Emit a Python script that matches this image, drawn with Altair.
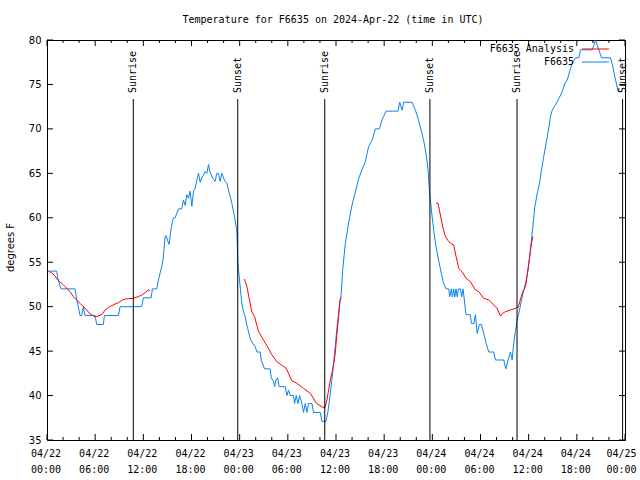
import altair as alt
import pandas as pd

# ---- data (hours since 2024-04-22 00:00 UTC, degrees F) ----
blue_hours = [0.17, 1.2, 1.4, 1.75, 3.49, 3.7, 3.9, 4.11, 4.32, 4.53, 4.74, 5.98, 6.19, 7.02, 7.15,
              8.9, 9.1, 11.8, 12.01, 12.97, 13.13, 13.67, 13.88, 14.09, 14.3, 14.5, 14.71, 14.84, 15.0,
              15.21, 15.42, 15.63, 15.75, 15.96, 16.38, 16.79, 17.0, 17.21, 17.41, 17.62, 17.83, 18.04,
              18.25, 18.45, 18.66, 18.87, 19.08, 19.28, 19.49, 19.7, 19.91, 20.12, 20.32, 20.53, 20.74,
              20.95, 21.15, 21.36, 21.57, 21.78, 21.99, 22.19, 22.4, 22.61, 22.82, 23.03, 23.23, 23.44,
              23.65, 23.78, 23.94, 24.1, 24.27, 24.48, 24.69, 24.9, 25.1, 25.31, 25.6, 25.94, 26.15,
              26.56, 26.68, 27.1, 27.8, 27.93, 28.22, 28.35, 28.51, 28.72, 28.93, 29.68, 29.88, 30.09,
              30.3, 30.71, 30.84, 31.05, 31.26, 31.46, 31.76, 31.96, 32.17, 32.38, 32.58, 33.0, 33.2,
              34.04, 34.25, 34.75, 35.0, 35.29, 35.58, 35.82, 36.12, 36.41, 36.66, 36.83, 37.16, 37.57,
              37.99, 38.4, 38.82, 39.24, 39.65, 40.06, 40.49, 40.9, 41.4, 41.73, 41.93, 42.23, 43.73,
              43.93, 44.23, 44.43, 45.47, 45.89, 46.22, 46.51, 46.92, 47.22, 47.47, 47.63, 47.88, 48.17,
              48.46, 48.79, 49.13, 49.41, 49.71, 50.04, 50.17, 50.37, 50.5, 50.65, 50.8, 50.95, 51.1,
              51.25, 51.5, 51.65, 51.83, 52.03, 52.2, 52.74, 52.87, 53.16, 53.37, 53.58, 53.87, 54.1,
              54.4, 54.7, 55.03, 55.65, 55.86, 56.9, 57.15, 57.44, 57.73, 57.94, 58.14, 58.35, 58.57,
              58.85, 59.19, 59.6, 59.93, 60.22, 60.52, 60.76, 61.06, 61.35, 61.6, 61.88, 62.18, 62.51,
              62.72, 62.93, 63.34, 63.76, 64.18, 64.5, 64.8, 65.09, 65.42, 65.84, 66.25, 66.46, 67.92,
              68.12, 68.33, 68.54, 68.74, 69.08, 70.2, 70.49, 70.82, 71.16, 71.45]
blue_temps = [54, 54, 53, 52, 52, 50.8, 50, 49, 49, 50, 49, 49, 48, 48, 49,
              49, 50, 50, 51, 51, 52, 52, 53, 53.8, 54.5, 55.6, 57.9, 58, 57.5,
              57, 58.6, 59.6, 60, 60, 61, 61, 62, 61.4, 62.6, 62.2, 63, 61.3,
              63, 63.3, 64.2, 65, 64, 64.5, 64.8, 65.2, 65, 66, 65.1, 64.7, 64.3,
              64.1, 65, 65, 64.1, 65, 64.5, 64.1, 63.9, 63.1, 62.4, 61.6, 60.7, 59.7,
              58.4, 54.9, 53.4, 51.9, 50.4, 49.4, 48.9, 47.9, 47.2, 46.4, 45.9, 45.5, 44.9,
              44.9, 44, 43, 43, 42, 41.6, 41, 41.7, 42, 41, 41, 40, 40.6,
              40, 40, 39.1, 40, 39.1, 40, 39.1, 38.1, 39.1, 38.1, 39.1, 39.1, 38.1,
              38.1, 37.1, 37.1, 38.2, 40.2, 42.5, 44.7, 47.6, 50, 51.5, 54.1, 57.1, 59.4,
              61.4, 62.9, 64.4, 65.4, 66.3, 68, 68.7, 70, 70, 71, 71.4, 72, 72,
              73, 72.1, 73, 73, 72.1, 71.2, 70.2, 68.7, 67.2, 65.4, 63.1, 60.9, 58.6,
              56.7, 55.2, 53.7, 52.6, 52, 52, 51.1, 52, 51.1, 52, 51.1, 52, 51.1,
              52, 52, 51.1, 52, 50.4, 49.1, 49.1, 48.1, 48.1, 49.1, 47, 48, 48,
              47, 45.9, 44.9, 44.9, 44, 44, 43, 44, 44.9, 44, 45.9, 47.2, 48.5,
              49.6, 51.1, 52.6, 54.1, 56.4, 59, 61.2, 62.7, 63.9, 65.4, 66.9, 68.4, 70.1,
              71.4, 72.1, 72.7, 73.4, 74.2, 75.1, 75.5, 76.4, 77.4, 78, 78, 78.9, 78.9,
              79.4, 80, 79.4, 78.9, 78, 78, 77, 75.5, 74.2, 74.2]

red1_hours = [0.17, 0.66, 1.0, 1.33, 1.62, 2.04, 2.45, 2.87, 3.28, 3.7, 4.11, 4.53, 4.95, 5.36,
              5.78, 6.19, 6.61, 6.9, 7.23, 7.65, 8.06, 8.48, 8.9, 9.4, 9.73, 10.76, 11.39, 11.8,
              12.22, 12.63, 12.84]
red1_temps = [54, 53.75, 53.45, 53.0, 52.8, 52.44, 52.06, 51.69, 51.13, 50.75, 50.38, 50.0, 49.63,
              49.18, 48.95, 48.88, 49.03, 49.18, 49.63, 49.93, 50.11, 50.3, 50.45, 50.75, 50.86,
              50.94, 51.13, 51.31, 51.58, 51.88, 51.8]
red2_hours = [24.6, 24.9, 25.19, 25.52, 25.85, 26.35, 26.97, 27.6, 28.0, 28.64, 29.8, 30.5, 31.1,
              31.96, 32.8, 33.6, 34.25, 34.6, 34.87, 35.29, 35.58, 35.91, 36.12, 36.33, 36.5, 36.66]
red2_temps = [53.1, 52.25, 50.9, 49.4, 48.9, 47.2, 46.25, 45.3, 44.6, 43.8, 43.06, 41.67, 41.4,
              40.8, 40.25, 39.1, 38.75, 38.6, 39.5, 41.75, 42.9, 44.75, 47.0, 48.9, 50.75, 51.05]
red3_hours = [48.46, 48.71, 49.0, 49.29, 49.63, 49.96, 50.25, 50.66, 50.96, 51.29, 51.71, 52.2,
              52.74, 53.37, 53.78, 54.4, 55.03, 55.65, 56.07, 56.48, 56.77, 57.1, 57.73, 58.35,
              58.69, 58.98, 59.26, 59.52, 59.69, 59.81, 60.1, 60.35, 60.52]
red3_temps = [61.63, 61.63, 60.31, 59.0, 57.88, 57.43, 57.13, 56.94, 55.63, 54.31, 53.94, 53.19,
              52.81, 51.87, 51.69, 50.94, 50.75, 50.19, 49.81, 48.95, 49.25, 49.44, 49.63, 49.81,
              49.93, 50.83, 51.69, 52.06, 52.62, 53.56, 55.44, 57.13, 57.88]

sun_hours = [10.75, 23.76, 34.6, 47.7, 58.55, 71.7]
sun_labels = ["Sunrise", "Sunset", "Sunrise", "Sunset", "Sunrise", "Sunset"]

x_tick_hours = list(range(0, 73, 6))
x_minor_hours = [h for h in range(0, 73, 2) if h % 6 != 0]
y_tick_values = list(range(35, 81, 5))

TITLE = "Temperature for F6635 on 2024-Apr-22 (time in UTC)"
BLUE = "#0b82f0"
RED = "#ff0000"
MONO = "DejaVu Sans Mono"
SANS = "DejaVu Sans"

W, H = 578, 400

# ---- frames ----
blue_df = pd.DataFrame({"h": blue_hours, "t": blue_temps})
red_df = pd.concat([
    pd.DataFrame({"h": red1_hours, "t": red1_temps, "seg": 1}),
    pd.DataFrame({"h": red2_hours, "t": red2_temps, "seg": 2}),
    pd.DataFrame({"h": red3_hours, "t": red3_temps, "seg": 3}),
])
sun_df = pd.DataFrame({"h": sun_hours, "label": sun_labels})
xmaj_df = pd.DataFrame({"h": x_tick_hours})
xmin_df = pd.DataFrame({"h": x_minor_hours})
ytick_df = pd.DataFrame({"t": y_tick_values})
one = pd.DataFrame({"a": [0]})

xs = alt.Scale(domain=[0, 72], nice=False, zero=False)
ys = alt.Scale(domain=[35, 80], nice=False, zero=False)

label_expr = ("['04/' + (22 + floor(datum.value / 24)), "
              "((datum.value % 24) < 10 ? '0' : '') + (datum.value % 24) + ':00']")

x_axis = alt.Axis(values=x_tick_hours, labelExpr=label_expr, ticks=False, domain=False,
                  grid=False, labelFont=MONO, labelFontSize=10, labelColor="black",
                  labelPadding=8, labelLineHeight=16, labelOverlap=False, labelFlush=False,
                  labelOffset=alt.condition("datum.value >= 72", alt.value(-4), alt.value(-1.5)),
                  title=None)
y_axis = alt.Axis(values=y_tick_values, ticks=False, domain=False, grid=False,
                  labelFont=SANS, labelFontSize=10, labelColor="black", labelPadding=6,
                  title="degrees F", titleFont=SANS, titleFontSize=10, titleFontWeight="normal",
                  titleColor="black", titleX=-37, titleY=207, titleAngle=270,
                  titleAlign="center", titleBaseline="middle")

blue = alt.Chart(blue_df).mark_line(color=BLUE, strokeWidth=1, clip=True).encode(
    x=alt.X("h:Q", scale=xs, axis=x_axis),
    y=alt.Y("t:Q", scale=ys, axis=y_axis),
)
red = alt.Chart(red_df).mark_line(color=RED, strokeWidth=1, clip=True).encode(
    x=alt.X("h:Q", scale=xs),
    y=alt.Y("t:Q", scale=ys),
    detail="seg:N",
)
sun_rule = alt.Chart(sun_df).mark_rule(color="black", strokeWidth=1).encode(
    x=alt.X("h:Q", scale=xs), y=alt.value(59), y2=alt.value(H)
)
sun_text = alt.Chart(sun_df).mark_text(angle=270, align="left", baseline="middle",
                                        font=MONO, fontSize=10, color="black").encode(
    x=alt.X("h:Q", scale=xs), y=alt.value(53), text="label:N"
)

# inward ticks (gnuplot style)
xmaj_b = alt.Chart(xmaj_df).mark_rule(color="black").encode(
    x=alt.X("h:Q", scale=xs), y=alt.value(H), y2=alt.value(H - 6))
xmaj_t = alt.Chart(xmaj_df).mark_rule(color="black").encode(
    x=alt.X("h:Q", scale=xs), y=alt.value(0), y2=alt.value(6))
xmin_b = alt.Chart(xmin_df).mark_rule(color="black").encode(
    x=alt.X("h:Q", scale=xs), y=alt.value(H), y2=alt.value(H - 3))
xmin_t = alt.Chart(xmin_df).mark_rule(color="black").encode(
    x=alt.X("h:Q", scale=xs), y=alt.value(0), y2=alt.value(3))
y_l = alt.Chart(ytick_df).mark_rule(color="black").encode(
    y=alt.Y("t:Q", scale=ys), x=alt.value(0), x2=alt.value(6))
y_r = alt.Chart(ytick_df).mark_rule(color="black").encode(
    y=alt.Y("t:Q", scale=ys), x=alt.value(W), x2=alt.value(W - 6))

# title
title = alt.Chart(one).mark_text(font=MONO, fontSize=10, color="black",
                                 align="center", baseline="middle").encode(
    x=alt.value(286), y=alt.value(-20), text=alt.value(TITLE))

# legend (gnuplot style: label then sample)
leg_t1 = alt.Chart(one).mark_text(font=MONO, fontSize=10, color="black", align="right",
                                  baseline="middle").encode(
    x=alt.value(527), y=alt.value(9), text=alt.value("F6635 Analysis"))
leg_l1 = alt.Chart(one).mark_rule(color=RED, strokeWidth=1).encode(
    x=alt.value(535), x2=alt.value(562), y=alt.value(9))
leg_t2 = alt.Chart(one).mark_text(font=MONO, fontSize=10, color="black", align="right",
                                  baseline="middle").encode(
    x=alt.value(527), y=alt.value(22), text=alt.value("F6635"))
leg_l2 = alt.Chart(one).mark_rule(color=BLUE, strokeWidth=1).encode(
    x=alt.value(535), x2=alt.value(562), y=alt.value(22))

chart = alt.layer(
    blue, red, sun_rule, sun_text, xmaj_b, xmaj_t, xmin_b, xmin_t, y_l, y_r,
    title, leg_t1, leg_l1, leg_t2, leg_l2
).properties(
    width=W, height=H,
    autosize=alt.AutoSizeParams(type="none"),
    padding={"left": 47, "top": 40, "right": 15, "bottom": 40},
    background="white",
).configure_view(stroke="black", strokeWidth=1)

chart.save("out.html", embed_options={"renderer": "svg", "actions": False})
